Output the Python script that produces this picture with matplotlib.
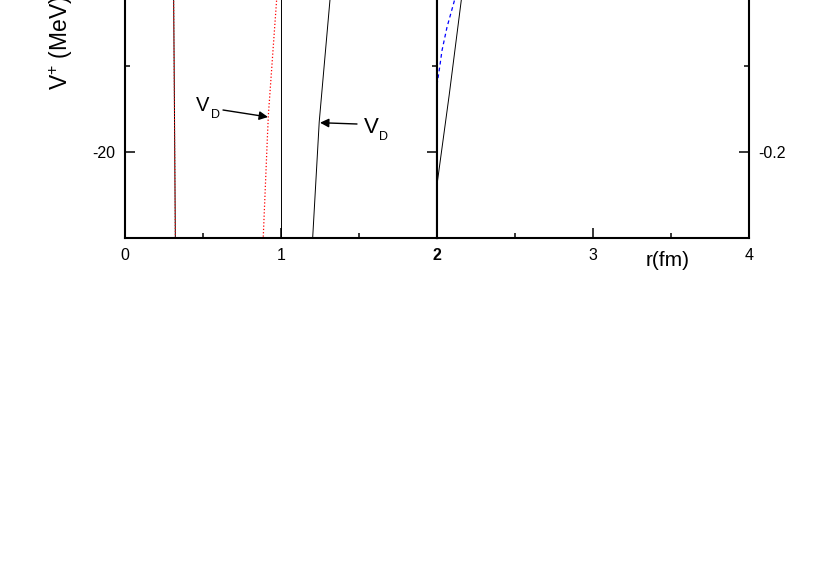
import matplotlib
matplotlib.use('Agg')
import matplotlib.pyplot as plt
from matplotlib.ticker import FixedLocator, FixedFormatter

plt.rcParams['font.family'] = ['Liberation Sans', 'DejaVu Sans']
plt.rcParams['mathtext.fontset'] = 'custom'
plt.rcParams['mathtext.rm'] = 'Liberation Sans'
plt.rcParams['mathtext.it'] = 'Liberation Sans:italic'
plt.rcParams['axes.unicode_minus'] = False

# left panel, V in MeV
r_core = [0.323, 0.317, 0.311]
v_core = [-31, -15, 0]
r_vd_red = [0.884, 0.886, 0.912, 0.919, 0.972, 0.981]
v_vd_red = [-31, -30, -18.6, -15.7, -2.3, 0]
r_step = [1.0, 1.0]
v_step = [-31, 0]
r_vd_black = [1.200, 1.203, 1.245, 1.314, 1.325]
v_vd_black = [-31, -30, -16.5, -2.3, 0]

# right panel (tail), scale /100
r_tail_blue = [2.0, 2.019, 2.032, 2.064, 2.113, 2.13]
v_tail_blue = [-0.122, -0.099, -0.082, -0.055, -0.023, -0.015]
r_tail_black = [2.0, 2.078, 2.156, 2.17]
v_tail_black = [-0.238, -0.134, -0.023, -0.004]

left_ticks = [-20]
left_minor = [-10]
right_ticks = [-0.2]
right_minor = [-0.1]

W, H = 830, 577
fig = plt.figure(figsize=(W / 100, H / 100), dpi=100)

# axes sit partly above the figure, like the cropped original
x0, xm, x1 = 125, 437, 749
ybot, ytop = 238, -20
ax1 = fig.add_axes([x0 / W, 1 - ybot / H, (xm - x0) / W, (ybot - ytop) / H])
ax2 = fig.add_axes([xm / W, 1 - ybot / H, (x1 - xm) / W, (ybot - ytop) / H])


def px(x, y):
    # pixel -> left panel data coords
    return (x - x0) / 156.0, -30 + (ybot - y) / 8.6


ax1.plot(r_core, v_core, color='black', lw=0.7)
ax1.plot(r_core, v_core, color='red', lw=0.8, ls=':')
ax1.plot(r_vd_red, v_vd_red, color='red', lw=0.9, ls=':')
ax1.plot(r_step, v_step, color='black', lw=0.7)
ax1.plot(r_vd_black, v_vd_black, color='black', lw=0.7)

ax2.plot(r_tail_blue, v_tail_blue, color='blue', lw=0.9, ls=(0, (3, 2.5)))
ax2.plot(r_tail_black, v_tail_black, color='black', lw=0.7)

ax1.set_xlim(0, 2)
ax1.set_ylim(-30, 0)
ax2.set_xlim(2, 4)
ax2.set_ylim(-0.3, 0)

for ax in (ax1, ax2):
    for s in ax.spines.values():
        s.set_linewidth(1.5)
    ax.tick_params(which='both', direction='in', width=1.1, labelsize=11.5, pad=7)
    ax.tick_params(which='major', length=7)
    ax.tick_params(which='minor', length=3.5)

ax1.xaxis.set_major_locator(FixedLocator([0, 1, 2]))
ax1.xaxis.set_minor_locator(FixedLocator([0.5, 1.5]))
ax1.xaxis.set_major_formatter(FixedFormatter(['0', '1', '2']))
ax1.get_xticklabels()[2].set_fontweight('bold')
ax1.yaxis.set_major_locator(FixedLocator(left_ticks))
ax1.yaxis.set_minor_locator(FixedLocator(left_minor))
ax1.tick_params(axis='y', which='both', left=True, right=True)

ax2.xaxis.set_major_locator(FixedLocator([2, 3, 4]))
ax2.xaxis.set_minor_locator(FixedLocator([2.5, 3.5]))
ax2.xaxis.set_major_formatter(FixedFormatter(['', '3', '4']))
ax2.yaxis.set_major_locator(FixedLocator(right_ticks))
ax2.yaxis.set_minor_locator(FixedLocator(right_minor))
ax2.yaxis.tick_right()
ax2.tick_params(axis='y', which='both', left=False, right=True)

# arrows + V_D labels
arrow = dict(arrowstyle='-|>', color='black', lw=1.0, mutation_scale=13,
             shrinkA=0, shrinkB=0)
ax1.annotate('', xy=px(268, 117), xytext=px(223, 110), arrowprops=arrow)
ax1.text(*px(196, 111), 'V', fontsize=14.5, ha='left', va='baseline')
ax1.text(*px(211, 117.5), 'D', fontsize=9, ha='left', va='baseline')
ax1.annotate('', xy=px(320, 122.7), xytext=px(357, 124), arrowprops=arrow)
ax1.text(*px(364, 133), 'V', fontsize=16, ha='left', va='baseline')
ax1.text(*px(378.5, 140.5), 'D', fontsize=9, ha='left', va='baseline')

fig.text(668 / W, 1 - 261 / H, 'r(fm)', fontsize=15, ha='center', va='center')
fig.text(61 / W, 1 - 90 / H, r'V$^{+}$ (MeV)', fontsize=16.5, rotation=90,
         ha='center', va='bottom')

fig.savefig('out.png', dpi=100)
